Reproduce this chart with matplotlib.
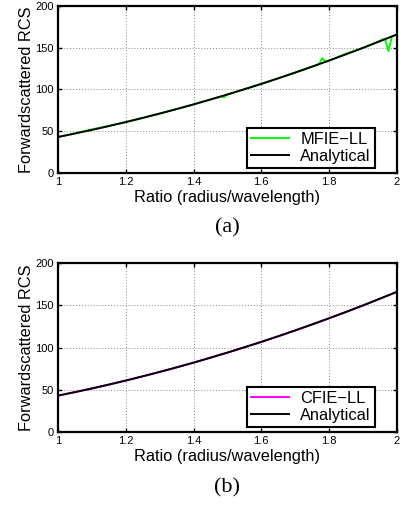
import numpy as np
import matplotlib.pyplot as plt

# analytical forward-scattered RCS vs radius/wavelength
ratio = [1.00, 1.05, 1.10, 1.15, 1.20, 1.25, 1.30, 1.35, 1.40, 1.45, 1.50,
         1.55, 1.60, 1.65, 1.70, 1.75, 1.80, 1.85, 1.90, 1.95, 2.00]
analytical = [43.0, 47.2, 51.5, 56.1, 60.9, 65.9, 71.1, 76.5, 82.1, 88.0, 94.0,
              100.3, 106.7, 113.4, 120.3, 127.4, 134.7, 142.2, 149.9, 157.9, 166.0]

# MFIE-LL (with small resonance glitches)
mfie_ratio = [1.00, 1.05, 1.10, 1.15, 1.20, 1.25, 1.30, 1.35, 1.40, 1.45, 1.48,
              1.49, 1.50, 1.55, 1.60, 1.65, 1.70, 1.75, 1.77, 1.78, 1.79, 1.80,
              1.85, 1.90, 1.95, 1.96, 1.965, 1.975, 1.985, 1.99, 2.00]
mfie = [43.0, 47.4, 52.2, 56.4, 60.9, 65.9, 71.1, 76.5, 82.1, 88.0, 91.4,
        90.8, 94.0, 100.3, 106.7, 113.4, 120.3, 127.4, 130.5, 137.5, 133.0, 134.7,
        143.0, 149.9, 158.4, 160.5, 160.8, 146.0, 163.2, 164.3, 166.0]

# CFIE-LL matches the analytical curve
cfie_ratio = ratio
cfie = [43.0, 47.2, 51.5, 56.1, 60.9, 65.9, 71.1, 76.5, 82.1, 88.0, 94.0,
        100.3, 106.7, 113.4, 120.3, 127.4, 134.7, 142.2, 149.9, 157.9, 166.0]

xticks = [1, 1.2, 1.4, 1.6, 1.8, 2]
xticklabels = ["1", "1.2", "1.4", "1.6", "1.8", "2"]
yticks = [0, 50, 100, 150, 200]

plt.rcParams['font.family'] = ['Liberation Sans', 'DejaVu Sans']

fig = plt.figure(figsize=(4.05, 5.07), dpi=100)
ax1 = fig.add_axes([0.143, 0.659, 0.837, 0.329])
ax2 = fig.add_axes([0.143, 0.148, 0.837, 0.333])

panels = [(ax1, mfie_ratio, mfie, "#00ff00", "MFIE\u2212LL", "(a)"),
          (ax2, cfie_ratio, cfie, "#ff00ff", "CFIE\u2212LL", "(b)")]

for ax, xs, ys, col, lab, cap in panels:
    ax.plot(xs, ys, color=col, lw=1.4, label=lab)
    ax.plot(ratio, analytical, color="black", lw=1.4, label="Analytical")
    ax.set_xlim(1, 2)
    ax.set_ylim(0, 200)
    ax.set_xticks(xticks)
    ax.set_xticklabels(xticklabels)
    ax.set_yticks(yticks)
    ax.tick_params(direction="in", top=True, right=True, labelsize=8,
                   length=3, width=1, pad=3)
    ax.grid(True, linestyle=(0, (1, 2)), color="#888888", lw=0.7)
    for s in ax.spines.values():
        s.set_linewidth(1.6)
    ax.set_xlabel("Ratio (radius/wavelength)", fontsize=11.8, labelpad=2)
    ax.set_ylabel("Forwardscattered RCS", fontsize=11.8, labelpad=1)
    leg = ax.legend(loc="lower right", bbox_to_anchor=(0.935, 0.03),
                    fontsize=11.8, fancybox=False, framealpha=1,
                    edgecolor="black", borderaxespad=0,
                    handlelength=2.3, handletextpad=0.7,
                    labelspacing=0.1, borderpad=0.25)
    leg.get_frame().set_linewidth(1.5)
    ax.text(0.5, -0.33, cap, transform=ax.transAxes, ha="center", va="center",
            fontsize=16, family=["Liberation Serif", "DejaVu Serif"])

fig.savefig("out.png", dpi=100)
